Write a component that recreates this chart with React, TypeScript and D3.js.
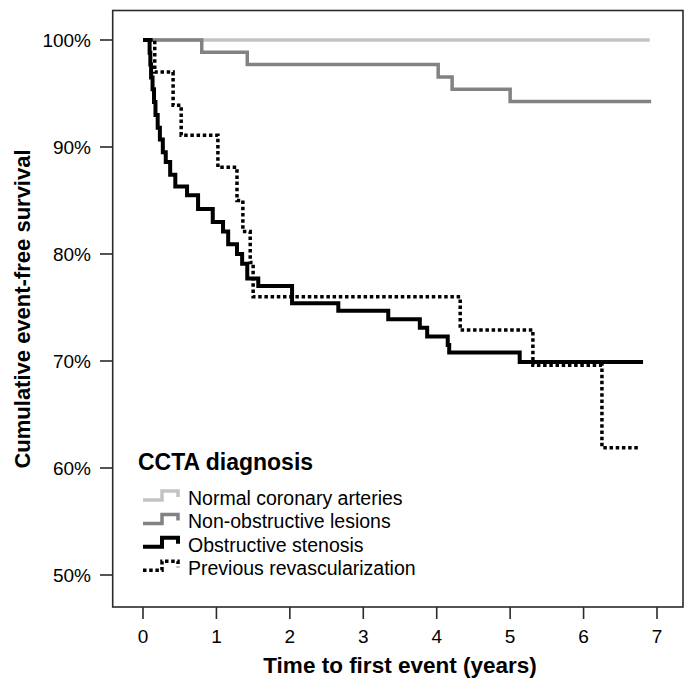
import React, { useEffect } from 'react';
import * as d3 from 'd3';

// axis ticks
const yearTicks = [0, 1, 2, 3, 4, 5, 6, 7];
const pctTicks = [50, 60, 70, 80, 90, 100];

// Kaplan-Meier curves: survival (%) from each time (years) onward; last point = end of follow-up
const normalTime = [0, 6.9];
const normalSurv = [100, 100];

const nonObsTime = [0, 0.8, 1.42, 4.02, 4.21, 5.0, 6.92];
const nonObsSurv = [100, 98.85, 97.7, 96.55, 95.4, 94.25, 94.25];

const obsTime = [
  0, 0.09, 0.1, 0.11, 0.13, 0.15, 0.17, 0.2, 0.23, 0.27, 0.31, 0.37, 0.44, 0.6, 0.75, 0.95,
  1.09, 1.16, 1.28, 1.35, 1.42, 1.57, 2.03, 2.66, 3.34, 3.77, 3.87, 4.15, 4.17, 5.13, 6.81,
];
const obsSurv = [
  100, 98.8, 97.7, 96.5, 95.4, 94.2, 93.0, 91.8, 90.7, 89.5, 88.6, 87.4, 86.3, 85.5, 84.2, 83.0,
  82.1, 80.9, 80.0, 79.1, 77.7, 77.0, 75.4, 74.7, 73.9, 73.1, 72.3, 71.5, 70.8, 69.9, 69.9,
];

const revascTime = [0, 0.16, 0.41, 0.52, 1.02, 1.28, 1.36, 1.46, 1.5, 4.32, 5.31, 6.25, 6.77];
const revascSurv = [100, 97.0, 93.9, 91.1, 88.1, 85.0, 82.1, 79.2, 76.0, 72.9, 69.6, 61.9, 61.9];

const groupNames = [
  'Normal coronary arteries',
  'Non-obstructive lesions',
  'Obstructive stenosis',
  'Previous revascularization',
];

const W = 685;
const H = 680;
const font = '"Liberation Sans", Arial, Helvetica, sans-serif';

const styles = [
  { color: '#c3c3c3', width: 3.5, dash: undefined },
  { color: '#828282', width: 3.5, dash: undefined },
  { color: '#000', width: 4, dash: undefined },
  { color: '#000', width: 3.5, dash: '3.5 2.7' },
];

export default function App() {
  useEffect(() => {
    document.body.style.margin = '0';
  }, []);

  const x = d3.scaleLinear().domain([0, 7]).range([143, 657]);
  const y = d3.scaleLinear().domain([50, 100]).range([575, 40]);

  const frame = { left: 112.7, top: 10.5, right: 683, bottom: 607 };

  const curves = [
    [normalTime, normalSurv],
    [nonObsTime, nonObsSurv],
    [obsTime, obsSurv],
    [revascTime, revascSurv],
  ].map(([t, s]) => t.map((v, i) => [v, s[i]] as [number, number]));

  const line = d3
    .line<[number, number]>()
    .x(d => x(d[0]))
    .y(d => y(d[1]))
    .curve(d3.curveStepAfter);

  const legendX = 143;
  const legendTitleY = 470;
  const legendRow = (i: number) => 505 + i * 23.4;

  return (
    <svg width={W} height={H} style={{ display: 'block', background: '#fff' }} fontFamily={font}>
      <rect
        x={frame.left}
        y={frame.top}
        width={frame.right - frame.left}
        height={frame.bottom - frame.top}
        fill="none"
        stroke="#2a2a2a"
        strokeWidth={1.6}
      />
      {pctTicks.map(p => (
        <g key={p}>
          <line x1={100} x2={frame.left} y1={y(p)} y2={y(p)} stroke="#2a2a2a" strokeWidth={1.6} />
          <text x={91} y={y(p) + 7} textAnchor="end" fontSize={19}>
            {p}%
          </text>
        </g>
      ))}
      {yearTicks.map(t => (
        <g key={t}>
          <line x1={x(t)} x2={x(t)} y1={frame.bottom} y2={frame.bottom + 12} stroke="#2a2a2a" strokeWidth={1.6} />
          <text x={x(t)} y={643} textAnchor="middle" fontSize={19}>
            {t}
          </text>
        </g>
      ))}
      <text x={400} y={673} textAnchor="middle" fontSize={22.5} fontWeight="bold">
        Time to first event (years)
      </text>
      <text
        transform={`translate(30,309) rotate(-90)`}
        textAnchor="middle"
        fontSize={22}
        fontWeight="bold"
      >
        Cumulative event-free survival
      </text>

      {curves.map((c, i) => (
        <path
          key={i}
          d={line(c) || ''}
          fill="none"
          stroke={styles[i].color}
          strokeWidth={styles[i].width}
          strokeDasharray={styles[i].dash}
          strokeLinejoin="miter"
          strokeLinecap="butt"
        />
      ))}

      <text x={138} y={legendTitleY} fontSize={23} fontWeight="bold">
        CCTA diagnosis
      </text>
      {groupNames.map((name, i) => {
        const b = legendRow(i);
        return (
          <g key={name}>
            <path
              d={`M${legendX},${b - 5} H${legendX + 19} V${b - 14} H${legendX + 35} V${b - 8}`}
              fill="none"
              stroke={styles[i].color}
              strokeWidth={styles[i].width}
              strokeDasharray={styles[i].dash}
            />
            <text x={188} y={b} fontSize={19.5}>
              {name}
            </text>
          </g>
        );
      })}
    </svg>
  );
}
